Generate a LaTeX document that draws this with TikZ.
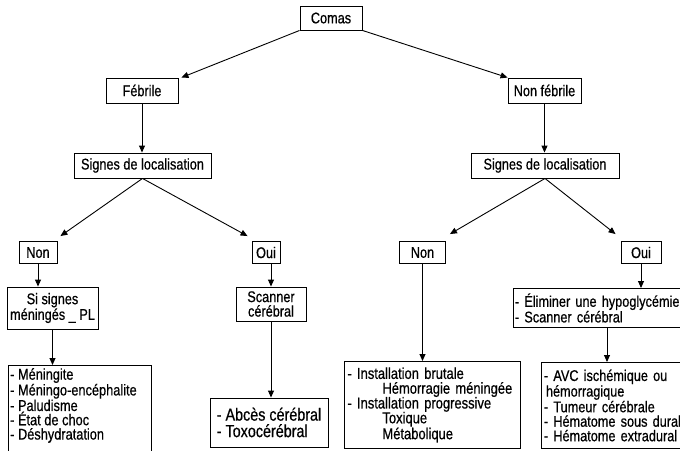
\documentclass[tikz,border=0pt]{standalone}
\usepackage{fontspec}
\setmainfont{Liberation Sans}[FakeStretch=0.82, FakeBold=0.6]
\usetikzlibrary{arrows.meta}
\newcommand\lblfont{\fontsize{15.5}{14.5}\selectfont}
\newcommand\lstfont{\fontsize{15.8}{14.8}\selectfont}
\newcommand\bigfont{\fontsize{17.5}{16.5}\selectfont}
\begin{document}
\begin{tikzpicture}[x=1pt,y=-1pt,
  box/.style={draw, line width=0.9pt, inner sep=0pt, font=\lblfont},
  lbox/.style={box, anchor=north west, align=left, inner xsep=3pt, font=\lstfont},
  arr/.style={-{Triangle[length=7pt,width=6pt]}, line width=0.9pt}]
\useasboundingbox (0,0) rectangle (680,450);
\begin{scope}
\clip (0,0) rectangle (680,450);
\node[box, minimum width=62pt, minimum height=24pt] (comas) at (331,18) {Comas};
\node[box, minimum width=72pt, minimum height=25pt] (feb) at (142,90.5) {Fébrile};
\node[box, minimum width=73pt, minimum height=25pt] (nfeb) at (544.5,90.5) {Non fébrile};
\node[box, minimum width=137pt, minimum height=25pt] (sigL) at (142.5,165.5) {Signes de localisation};
\node[box, minimum width=148pt, minimum height=25pt] (sigR) at (545,165.5) {Signes de localisation};
\node[box, minimum width=38pt, minimum height=22pt] (nonL) at (38,252.5) {Non};
\node[box, minimum width=28pt, minimum height=22pt] (ouiL) at (266,252.5) {Oui};
\node[box, minimum width=46pt, minimum height=22pt] (nonR) at (422.5,252.5) {Non};
\node[box, minimum width=40pt, minimum height=22pt] (ouiR) at (641,252.5) {Oui};
\node[box, minimum width=91pt, minimum height=42pt, align=center] (siL) at (52.5,308) {Si signes\\méningés \_ PL};
\node[box, minimum width=70pt, minimum height=34pt, align=center] (scan) at (271,304) {Scanner\\cérébral};
\node[lbox, text width=174pt, minimum height=39pt, inner xsep=1.5pt, font=\lblfont] (eli) at (513,288) {- Éliminer une hypoglycémie\\- Scanner cérébral};
\node[box, anchor=north west, minimum width=143pt, minimum height=100pt] (listL) at (8,365) {};
\node[anchor=north west, align=left, inner sep=0pt, font=\fontsize{15.6}{14.3}\selectfont] (listLt) at (10,368) {- Méningite\\- Méningo-encéphalite\\- Paludisme\\- État de choc\\- Déshydratation};
\node[box, minimum width=118pt, minimum height=49pt, align=left, font=\bigfont] (abces) at (269,422.5) {- Abcès cérébral\\- Toxocérébral};
\node[lbox, text width=170pt, minimum height=87pt] (inst) at (344,361) {- Installation brutale\\\hspace*{35pt}Hémorragie méningée\\- Installation progressive\\\hspace*{35pt}Toxique\\\hspace*{35pt}Métabolique};
\node[lbox, text width=150pt, minimum height=86pt, inner xsep=2.5pt, font=\lblfont] (avc) at (541,362) {- AVC ischémique ou\\\hspace*{2pt}hémorragique\\- Tumeur cérébrale\\- Hématome sous dural\\- Hématome extradural};
\end{scope}
\draw[arr] (comas.south west) -- ([shift={(3,0)}]feb.north east);
\draw[arr] (comas.south east) -- (nfeb.north west);
\draw[arr] (feb.south) -- (feb.south |- sigL.north);
\draw[arr] (nfeb.south) -- (nfeb.south |- sigR.north);
\draw[arr] (sigL.south) -- ([shift={(3,-5)}]nonL.north east);
\draw[arr] (sigL.south) -- ([shift={(-4,-5)}]ouiL.north west);
\draw[arr] (sigR.south) -- ([shift={(4,-7)}]nonR.north east);
\draw[arr] (sigR.south) -- ([shift={(-5,-7)}]ouiR.north west);
\draw[arr] (nonL.south) -- (nonL.south |- siL.north);
\draw[arr] (siL.south) -- (siL.south |- listL.north);
\draw[arr] (scan.north |- ouiL.south) -- (scan.north);
\draw[arr] (scan.south) -- (scan.south |- abces.north);
\draw[arr] (nonR.south) -- (nonR.south |- inst.north);
\draw[arr] (ouiR.south) -- (ouiR.south |- eli.north);
\coordinate (e2) at ([xshift=94pt]eli.south west);
\draw[arr] (e2) -- (e2 |- avc.north);
\end{tikzpicture}
\end{document}
